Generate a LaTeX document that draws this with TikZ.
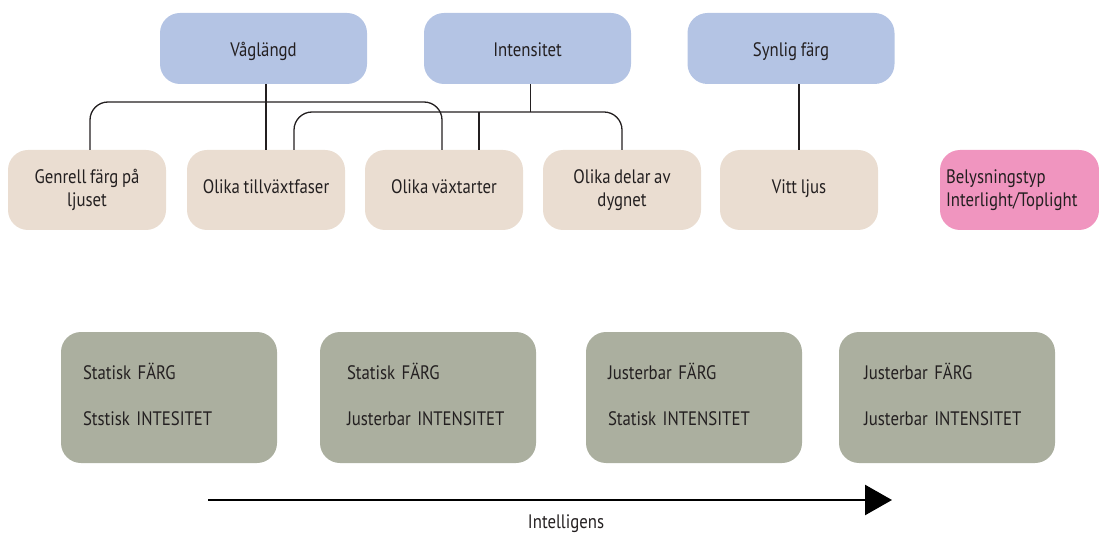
\documentclass[tikz,border=0pt]{standalone}
\usepackage{fontspec}
\setmainfont{PT Sans}[FakeStretch=0.86, WordSpace=0.8]
\usetikzlibrary{arrows.meta,calc}
\definecolor{blueb}{HTML}{B4C4E4}
\definecolor{beige}{HTML}{EADDD1}
\definecolor{pinkb}{HTML}{F095BF}
\definecolor{grayb}{HTML}{ABAF9F}
\definecolor{txt}{HTML}{231F20}
\newcommand{\twolines}[2]{\raisebox{5.5pt}{\begin{tabular}{@{}l@{}}#1\\[23pt]#2\end{tabular}}}
\newcommand{\lowered}[1]{\raisebox{-2pt}{\begin{tabular}{@{}c@{}}#1\end{tabular}}}
\begin{document}
\begin{tikzpicture}[x=1pt,y=-1pt,
  every node/.style={text=txt, font=\fontsize{19.5}{23}\selectfont},
  topbox/.style={fill=blueb, rounded corners=20, minimum width=207, minimum height=71, inner sep=0, text height=17, text depth=0},
  midbox/.style={fill=beige, rounded corners=20, minimum width=158, minimum height=80, inner sep=0, align=center},
  onebox/.style={midbox, text height=12, text depth=4},
  pinkbox/.style={fill=pinkb, rounded corners=20, minimum width=159, minimum height=80, inner xsep=6, inner ysep=0, align=left, text width=147},
  graybox/.style={fill=grayb, rounded corners=20, minimum width=216, minimum height=131, inner xsep=22, inner ysep=0, align=left, text width=172},
  conn/.style={draw=txt, line width=1.3, rounded corners=18}
]
\useasboundingbox (0,0) rectangle (1099,534);
% top row
\node[topbox] (vag) at (263.5,48.5) {Våglängd};
\node[topbox] (int) at (527.5,48.5) {Intensitet};
\node[topbox] (syn) at (791,48.5) {Synlig färg};
% second row
\node[midbox] (gen) at (87,190) {\lowered{Genrell färg på\\ljuset}};
\node[onebox] (till) at (266,190) {Olika tillväxtfaser};
\node[onebox] (vax) at (444,190) {Olika växtarter};
\node[midbox] (del) at (622,190) {\lowered{Olika delar av\\dygnet}};
\node[onebox] (vit) at (799,190) {Vitt ljus};
\node[pinkbox] (bel) at (1019.5,190) {\raisebox{-2pt}{\begin{tabular}{@{}l@{}}Belysningstyp\\Interlight/Toplight\end{tabular}}};
% connectors
\coordinate (g1) at ($(gen.north)+(3,0)$);
\coordinate (v1) at ($(vax.north)+(-2,0)$);
\coordinate (t2) at ($(till.north)+(28,0)$);
\coordinate (v2) at ($(vax.north)+(35,0)$);
\coordinate (i2) at ($(int.south)+(3,0)$);
\draw[conn] (g1) -- (g1 |- 0,102) -- (v1 |- 0,102) -- (v1);
\draw[conn] (vag.south -| till.north) -- (till.north);
\draw[conn] (t2) -- (t2 |- 0,112) -- (del.north |- 0,112) -- (del.north);
\draw[conn] (i2) -- (i2 |- 0,112);
\draw[conn] (v2 |- 0,112) -- (v2);
\draw[conn] (syn.south -| vit.north) -- (vit.north);
% bottom row
\node[graybox] (b1) at (169,397.5) {\twolines{Statisk FÄRG}{Ststisk INTESITET}};
\node[graybox] (b2) at (428,397.5) {\hspace*{5pt}\twolines{Statisk FÄRG}{Justerbar INTENSITET}};
\node[graybox] (b3) at (694,397.5) {\twolines{Justerbar FÄRG}{Statisk INTENSITET}};
\node[graybox] (b4) at (947,397.5) {\hspace*{3pt}\twolines{Justerbar FÄRG}{Justerbar INTENSITET}};
% arrow
\coordinate (aS) at (208,500);
\coordinate (aE) at (892,500);
\draw[draw=black, line width=2.5, -{Triangle[length=27,width=30]}] (aS) -- (aE);
\node (intel) at (566,524) {Intelligens};
\end{tikzpicture}
\end{document}
